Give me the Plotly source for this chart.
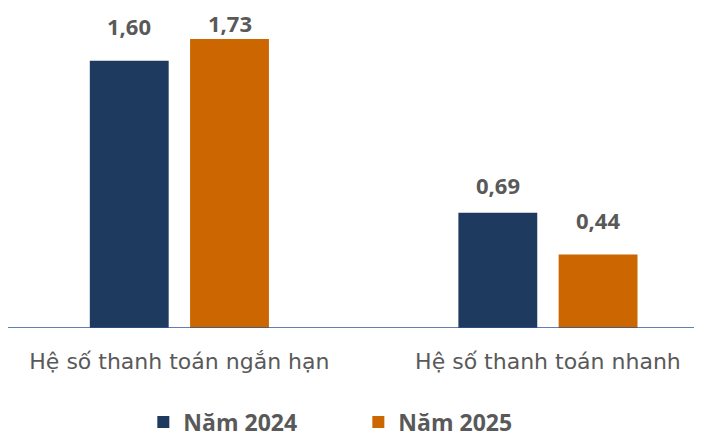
import plotly.graph_objects as go

categories = ["Hệ số thanh toán ngắn hạn", "Hệ số thanh toán nhanh"]
series_names = ["Năm 2024", "Năm 2025"]
values_2024 = [1.60, 0.69]
values_2025 = [1.73, 0.44]
colors = ["#1F3A5F", "#CC6600"]

xs = list(range(len(categories)))
bar_w = 0.214
offsets = [-0.243, 0.029]
label_shifts = [[35, 28], [16, 35]]

fig = go.Figure()
annotations = []
for name, vals, col, off, shifts in zip(series_names, [values_2024, values_2025], colors, offsets, label_shifts):
    fig.add_trace(go.Bar(x=xs, y=vals, name=name, marker_color=col,
                         width=bar_w, offset=off, hoverinfo="skip"))
    for xi, v, s in zip(xs, vals, shifts):
        annotations.append(dict(x=xi + off + bar_w / 2, y=v, xref="x", yref="y",
                                text=f"{v:.2f}".replace(".", ","), showarrow=False,
                                yanchor="middle", yshift=s,
                                font=dict(family="Open Sans", size=22, color="#595959", weight="bold")))

fig.update_layout(
    template="none",
    width=694, height=433,
    margin=dict(l=0, r=0, t=0, b=113, autoexpand=False),
    plot_bgcolor="white", paper_bgcolor="white",
    annotations=annotations,
    showlegend=True,
    legend=dict(orientation="h", x=0.195, xanchor="left", y=-0.294, yanchor="middle",
                font=dict(family="Open Sans", size=23, color="#595959", weight="bold"),
                itemwidth=30, entrywidth=170, entrywidthmode="pixels"),
    xaxis=dict(range=[-0.465, 1.418], tickmode="array", tickvals=xs, ticktext=categories,
               showgrid=False, zeroline=False, showline=False, ticks="", automargin=False,
               ticklabelstandoff=18,
               tickfont=dict(family="DejaVu Sans", size=22, color="#595959")),
    yaxis=dict(range=[0, 1.916], visible=False, showgrid=False, zeroline=False, automargin=False),
    shapes=[dict(type="line", xref="paper", yref="y", x0=0, x1=1, y0=0, y1=0,
                 line=dict(color="#2F5597", width=1.5))],
)

fig.write_html("out.html")
